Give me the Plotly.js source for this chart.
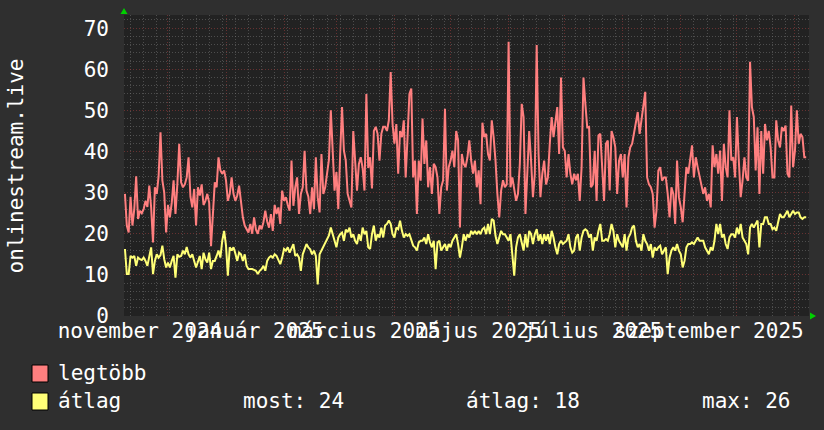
<!DOCTYPE html>
<html>
<head>
<meta charset="utf-8">
<script src="https://cdn.plot.ly/plotly-3.0.1.min.js"></script>
<style>html,body{margin:0;padding:0;background:#2f2f2f;}#chart{width:824px;height:430px;}</style>
</head>
<body>
<div id="chart"></div>
<script>
// ---- data (daily values, first point 2024-11-08) ----
const startDate = Date.UTC(2024, 10, 8, 0);
const legtobb = [
29.7,22,20.3,29,22,26,34,23.6,25.6,25,26,
28,26.5,31.7,26.4,17.9,31.3,29.7,34,44.7,33,30,
20.3,27,24,27.5,33,24.8,32,41.9,32.5,31.3,32,
33.7,38.6,29,26.4,30.9,22,31.3,29.3,32,27,28,
29.7,27.6,17,26.4,32.5,31.3,38.6,35.4,34.6,35.4,33,
28,29.7,33.7,29.7,28,29.3,31.7,27.3,24,22,21,
20.3,22.4,20,24,21,20,22,21.1,22.8,25.6,23,
21.5,24.8,20.7,27,24.8,26.4,22.4,30.5,28,28.9,27,
25.6,37.8,26.8,31.3,33.7,24.8,29.7,31.3,40.2,30.5,29,
24.8,31.3,26,38.6,28.9,25.2,39.4,29.7,31.3,35,38,
50,39.4,30.5,35,26,39.4,50.8,40.2,37.8,29.7,
28,26.4,45,36,30.5,37,38.6,36,
30.5,54,36,38.6,31,45,46,44.3,
37.8,44.3,46,46,45,47.6,59.3,46.7,
41.9,46.7,34.6,45,43.5,47.6,33.7,43.5,
54,55.3,33.7,37.8,24.8,37.8,32.9,48,
37,42.7,31.3,36.2,29.7,37,36.2,33.7,
24.8,31.3,33,50.4,30.5,36.2,37.8,40.2,
36.2,45,42.7,21.5,39.4,37,36.2,38.6,
42.7,37.8,34.6,37.8,31.3,35.4,27.2,47,
43.5,44.3,39.4,37.8,47.6,43.5,37.8,29.7,
24,30.5,33,31.3,32,66.7,31.3,33.7,
30.5,28,29.7,37,51.6,48.4,24.8,34.6,
45,37.8,28.9,34.6,65.9,39.4,28.9,34.6,
37.8,32,33.7,41.9,48.4,43.5,47.6,50.8,
39.4,58,41,40.2,33.7,39.4,34.6,32,
34.6,33,34.6,28,36.2,58,51.6,45.9,
46,31.3,32,40.2,28,43.9,44.3,37,28,41.9,
42.7,30.5,45,43.5,41,29.7,37.8,39.4,33.7,39.4,
26.4,38.6,41,41.9,44.3,46.7,49.6,44.3,47.6,50.8,
54.5,33.7,32,31.3,29.7,21.5,25.6,35.4,36.2,32.9,
33.7,33.7,29.7,24,31.3,29.7,22.4,37.8,28.9,26.4,
22.8,29.7,36.2,34.6,37.8,41.5,33.7,38.6,36.2,33.7,
31.3,29.7,31.3,28,29.7,26.4,41.5,36.2,39.4,34.6,
40.2,28,41.9,36.2,33.7,50,37.8,38.6,33.7,48.4,
37.8,28.9,32.9,38.6,33.7,32.9,61.8,50.8,48.4,35.4,
45.9,29.7,45,34.6,46.7,42.7,45,41,33.7,33.7,
47.6,42.7,41,45.9,45,46.3,34.6,33.7,51.2,36.2,
40.2,50,41.9,44.3,43.5,38.6,38.6
];
const atlag = [
16.3,10.2,10.2,14.6,14.2,14.6,12.2,14.2,13.8,13.6,
14.2,13.4,12.2,15,16.7,10.2,13.4,15,14.2,14.8,
17.1,13.8,11.8,13,11.8,13.4,14.6,9.3,15,14.4,
14.6,15.9,15,16.8,15,14.2,15,13.4,11.8,13.2,
14.6,11.4,15.4,13.8,13,15.4,11.4,13.4,13.4,14.6,
15.9,14.2,18.3,20.7,17.1,9.8,16.7,15.9,16.7,15.2,
13.4,15.4,15,13.4,15,12.2,11.4,11.4,11.4,11.2,
11,10.2,11,11.4,12.2,11,13.4,14.2,14.6,14.2,
15,14.6,13.4,12.6,14.2,16.3,15.9,16.7,15.4,16.4,
17.5,14.6,15,14.2,11,15,16.3,17.5,16.7,16.2,
15,15.9,14.6,7.7,15,15.9,16.7,17.5,18.3,19.6,
21.5,19.9,18.3,16.7,19.1,19.9,20.3,18.3,21,20.4,
21.5,19.1,19.9,18.3,17.5,19.9,18.3,21.5,
19.9,20.7,16.7,16.3,19.9,22,18.3,19.9,
19.1,21.5,19.1,22,22.4,23.2,22.4,19.9,
19.1,21.5,21.1,23.2,20.7,19.1,19.9,19.5,
19.9,18.3,17.1,16.7,15.9,17.9,18.3,18.3,
19.1,17.5,19.9,17.9,16.7,18.3,11.4,17.9,
18.3,15.9,16.7,17.5,15.9,17.5,16.7,18.3,
19.1,19.9,17.5,14.2,16.7,19.9,18.3,19.9,
19.1,20.7,19.9,20.7,19.9,20.7,19.9,21.1,
21.5,19.9,22.4,19.9,23.6,23.2,19.5,17.5,
19.1,20.7,19.9,19.9,19.1,18.3,19.9,15,
9.8,16.7,19.1,19.9,17.5,15.9,19.9,16.7,
20.7,19.9,17.5,19.9,21.1,18.3,19.9,17.5,
19.9,18.3,19.9,17.5,20.7,19.1,16.7,15,
17.5,18.3,17.5,17.9,18.3,19.9,16.7,15.4,
15.9,19.1,19.9,15.9,19.1,20.7,21.1,20.7,
19.1,19.9,15.9,19.1,18.3,20.7,22.4,18.3,18.3,18.7,
18.3,19.9,22.4,20.7,16.7,19.9,18.3,17.5,16.7,19.9,
15.9,19.1,19.9,21.5,22,18.3,16.7,17.5,15.9,19.9,
18.3,17.5,15.9,17.5,14.2,16.7,15.9,16.7,17.1,15,
15.9,16.7,10.2,14.2,15.9,16.7,15.9,17.5,15.9,15,
11.8,13.4,16.7,17.5,17.5,17.9,17.5,18.3,19.1,18.3,
18.3,18.3,16.7,15.9,15,16.7,15.9,18.3,22.4,19.9,
22.4,19.1,19.9,17.5,16.3,19.1,19.9,19.9,19.1,21.5,
19.9,22.4,19.1,18.3,17.5,15,21.5,22.4,21.5,22.4,
23.2,16.7,22.4,22.4,24,24,22.4,22.4,21.1,21.5,
20.7,22.8,24.8,24,24,24.8,25.6,24,24.8,25.6,
24.8,25.2,25.2,24,23.6,24,24
];
const tickDates = ['2024-11-16','2025-01-16','2025-03-16','2025-05-16','2025-07-16','2025-09-16'];
const tickLabels = ['november 2024','január 2025','március 2025','május 2025','július 2025','szeptember 2025'];
const seriesNames = ['legtöbb','átlag'];
const statLabels = ['most: 24','átlag: 18','max: 26'];

// ---- build ----
function dateAt(i){
  return new Date(startDate + i*86400000).toISOString().replace('T',' ').slice(0,16);
}
const xs = legtobb.map((_,i)=>dateAt(i));
const xsY = atlag.map((_,i)=>dateAt(i));

const RED = '#ff7f7f', YEL = '#ffff77';
const GRID = 'rgba(120,120,120,0.5)';
const MGRID = 'rgba(150,60,60,0.6)';
const DOTS = '1px,2px';
const FONT = 'DejaVu Sans Mono, monospace';

const traces = [
  {x: xs, y: legtobb, type:'scatter', mode:'lines', line:{color:RED, width:2}, name:seriesNames[0], hoverinfo:'skip'},
  {x: xsY, y: atlag, type:'scatter', mode:'lines', line:{color:YEL, width:2}, name:seriesNames[1], hoverinfo:'skip'}
];

const L=124, R=809, T=15, B=316;
const px = X => (X-L)/(R-L);
const py = Y => (B-Y)/(B-T);

const annotations = [
  {text:'onlinestream.live', xref:'paper', yref:'paper', x:px(15), y:0.5, textangle:-90, showarrow:false, xanchor:'center', yanchor:'middle', font:{family:FONT,size:21,color:'#ffffff'}},
  {text:seriesNames[0], xref:'paper', yref:'paper', x:px(56), y:py(373), showarrow:false, xanchor:'left', yanchor:'middle', font:{family:FONT,size:21,color:'#ffffff'}},
  {text:seriesNames[1], xref:'paper', yref:'paper', x:px(56), y:py(401), showarrow:false, xanchor:'left', yanchor:'middle', font:{family:FONT,size:21,color:'#ffffff'}},
  {text:statLabels[0], xref:'paper', yref:'paper', x:px(241), y:py(401), showarrow:false, xanchor:'left', yanchor:'middle', font:{family:FONT,size:21,color:'#ffffff'}},
  {text:statLabels[1], xref:'paper', yref:'paper', x:px(464), y:py(401), showarrow:false, xanchor:'left', yanchor:'middle', font:{family:FONT,size:21,color:'#ffffff'}},
  {text:statLabels[2], xref:'paper', yref:'paper', x:px(700), y:py(401), showarrow:false, xanchor:'left', yanchor:'middle', font:{family:FONT,size:21,color:'#ffffff'}}
];

const shapes = [
  {type:'rect', xref:'paper', yref:'paper', x0:px(32), x1:px(48), y0:py(365), y1:py(382), fillcolor:RED, line:{color:'#000000', width:1}},
  {type:'rect', xref:'paper', yref:'paper', x0:px(32), x1:px(48), y0:py(393), y1:py(410), fillcolor:YEL, line:{color:'#000000', width:1}},
  {type:'path', xref:'paper', yref:'paper', path:`M ${px(120.5)} ${py(14)} L ${px(127.5)} ${py(14)} L ${px(124)} ${py(8)} Z`, fillcolor:'#00d000', line:{width:0}},
  {type:'path', xref:'paper', yref:'paper', path:`M ${px(810)} ${py(312.5)} L ${px(810)} ${py(319.5)} L ${px(816)} ${py(316)} Z`, fillcolor:'#00d000', line:{width:0}}
];

const layout = {
  width:824, height:430,
  margin:{l:L, r:824-R, t:T, b:430-B, pad:0},
  paper_bgcolor:'#2f2f2f', plot_bgcolor:'#222222',
  showlegend:false,
  font:{family:FONT, size:21, color:'#ffffff'},
  xaxis:{
    type:'date', range:['2024-11-07 12:00','2025-11-08 12:00'],
    tickmode:'linear', tick0:'2024-12-01', dtick:'M1',
    showticklabels:false, ticks:'',
    showgrid:true, gridcolor:MGRID, griddash:DOTS, gridwidth:1,
    minor:{tickmode:'linear', tick0:'2024-11-11', dtick:7*86400000, showgrid:true, gridcolor:GRID, griddash:DOTS, gridwidth:1, ticks:''},
    zeroline:false, showline:false, fixedrange:true
  },
  xaxis2:{
    type:'date', overlaying:'x', anchor:'y', side:'bottom',
    range:['2024-11-07 12:00','2025-11-08 12:00'],
    tickmode:'array', tickvals:tickDates, ticktext:tickLabels, tickangle:0,
    showgrid:false, zeroline:false, showline:false, ticks:'', ticklabelstandoff:0,
    tickfont:{family:FONT, size:21, color:'#ffffff'}
  },
  yaxis:{
    range:[0,73.2], tickmode:'linear', tick0:0, dtick:10,
    showgrid:true, gridcolor:MGRID, griddash:DOTS, gridwidth:1,
    minor:{tickmode:'linear', tick0:0, dtick:2, showgrid:true, gridcolor:GRID, griddash:DOTS, gridwidth:1, ticks:''},
    zeroline:false, showline:false, ticks:'', ticklabelstandoff:14,
    tickfont:{family:FONT, size:21, color:'#ffffff'}, fixedrange:true
  },
  annotations, shapes
};

// invisible helper trace so the label axis is drawn
traces.push({x:[tickDates[0]], y:[null], xaxis:'x2', yaxis:'y', type:'scatter', mode:'lines', hoverinfo:'skip', showlegend:false});

Plotly.newPlot('chart', traces, layout, {staticPlot:true, displayModeBar:false});
</script>
</body>
</html>
